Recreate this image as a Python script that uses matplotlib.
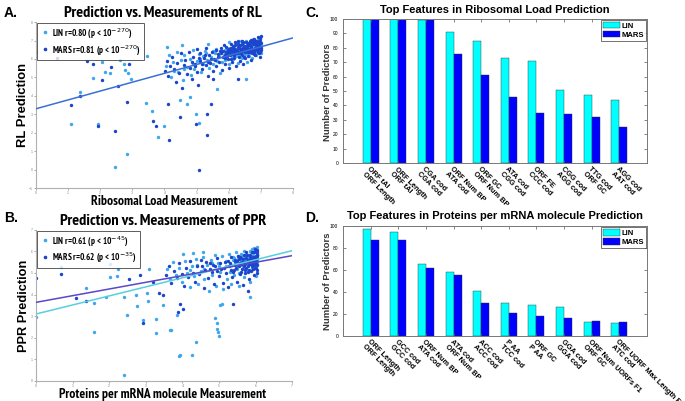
import numpy as np
import matplotlib.pyplot as plt
from matplotlib.lines import Line2D

narrow = ['PT Sans Narrow', 'Liberation Sans Narrow', 'Arial Narrow', 'Archivo Narrow',
          'Roboto Condensed', 'Liberation Sans', 'DejaVu Sans']
wide = ['Liberation Sans', 'Arimo', 'DejaVu Sans']
plt.rcParams['font.family'] = wide

# --- panel A : ribosomal load (measurement, prediction) ---
rl_lin_x = [0.0, 2.06, 2.16, 2.3, 2.63, 2.73, 2.76, 2.87, 2.97, 3.16, 1.37, 1.08, 1.92, 2.82, 2.46, 3.44, 3.62,
            3.8, 4.0, 4.49, 4.69, 4.8, 4.98, 5.08, 5.63, 4.07, 3.45, 4.54, 5.37, 6.54, 1.76,
            4.05, 4.15, 4.2, 4.28, 4.38, 4.42, 4.5, 4.58, 4.62, 4.7, 4.78, 4.82, 4.88, 4.92, 5.02, 5.08, 5.15,
            5.2, 5.25, 5.32, 5.38, 5.45, 5.52, 5.58, 5.65, 5.72, 5.78, 5.88, 5.95, 6.02, 6.06, 6.12, 6.16, 6.24,
            6.28, 6.34, 6.4, 6.46, 6.52, 6.56, 6.6, 6.64, 6.7, 6.74, 6.78, 6.84, 6.86, 6.9, 6.94, 6.98, 7.0,
            7.0, 6.96,
            5.84, 5.9, 5.98, 6.01, 6.09, 6.11, 6.19, 6.23, 6.31, 6.37, 6.39, 6.44, 6.49, 6.54, 6.58, 6.62, 6.66,
            6.72, 6.76, 6.82, 6.88, 6.92, 6.97, 6.99, 6.85, 6.68, 6.48, 6.3, 6.1, 5.9, 5.7, 5.5, 5.3, 5.1, 4.9,
            4.6, 4.3,
            6.03, 6.13, 6.22, 6.27, 6.36, 6.42, 6.5, 6.57, 6.63, 6.71, 6.75, 6.8, 6.87, 6.91, 6.95, 6.99, 6.9,
            6.7, 6.5, 6.2, 5.8, 5.6, 5.4, 5.2]
rl_lin_y = [6.35, 5.83, 5.29, 5.23, 5.96, 5.74, 5.42, 5.23, 4.93, 6.56, 4.22, 2.5, 2.45, 0.85, 0.16, 3.6, 3.2,
            1.79, 2.39, 3.75, 3.57, 3.93, 3.03, 2.52, 4.38, 6.65, 6.14, 6.74, 6.83, 4.93, 4.98,
            5.6, 6.2, 5.0, 5.85, 6.4, 5.3, 5.95, 4.85, 6.2, 5.55, 6.0, 5.15, 6.5, 5.45, 5.9, 6.25, 5.3,
            5.7, 6.45, 5.95, 5.5, 6.1, 5.75, 6.3, 5.9, 5.25, 6.45, 5.95, 6.6, 5.75, 6.4, 6.0, 6.7, 6.15,
            5.8, 6.45, 6.05, 6.85, 6.25, 5.85, 6.7, 6.3, 6.9, 6.05, 6.6, 6.35, 7.0, 6.75, 6.5, 7.1, 6.7,
            6.3, 6.9,
            6.2, 6.5, 6.3, 6.9, 6.15, 6.55, 6.35, 6.8, 6.2, 6.65, 6.95, 6.4, 6.6, 6.95, 6.5, 6.15, 6.85,
            6.5, 7.1, 6.85, 6.55, 7.05, 6.85, 7.2, 6.2, 6.45, 6.15, 6.9, 6.55, 6.25, 6.15, 6.45, 6.3, 6.0, 5.75,
            5.45, 5.35,
            6.6, 6.35, 6.5, 6.25, 6.6, 6.75, 6.45, 6.3, 6.55, 6.7, 6.4, 6.75, 6.3, 6.6, 7.0, 6.55, 6.9,
            6.5, 6.7, 6.45, 5.85, 6.55, 5.9, 6.15]
rl_mars_x = [0.66, 1.6, 1.76, 2.06, 2.35, 2.56, 1.37, 1.08, 1.92, 2.82, 2.46, 3.65, 3.75, 4.14, 4.11, 4.49,
             4.98, 5.32, 5.32, 5.08, 5.44, 6.3, 2.9,
             4.02, 4.08, 4.12, 4.18, 4.25, 4.3, 4.35, 4.4, 4.45, 4.5, 4.55, 4.6, 4.65, 4.7, 4.75, 4.8, 4.85,
             4.9, 4.95, 5.0, 5.0, 5.05, 5.1, 5.12, 5.18, 5.22, 5.28, 5.3, 5.35, 5.4, 5.42, 5.48, 5.5, 5.5,
             5.55, 5.6, 5.62, 5.68, 5.7, 5.75, 5.78, 5.82, 5.85, 5.9, 5.92, 5.98, 6.0, 6.0,
             6.05, 6.08, 6.1, 6.15, 6.18, 6.2, 6.22, 6.25, 6.3, 6.32, 6.35, 6.38, 6.4, 6.42, 6.45, 6.48, 6.5, 6.5,
             6.55, 6.58, 6.6, 6.62, 6.65, 6.68, 6.7, 6.72, 6.75, 6.78, 6.8, 6.82, 6.85, 6.88, 6.9, 6.92, 6.95,
             6.97, 7.0, 7.0, 7.0, 6.98,
             5.82, 5.87, 5.93, 5.96, 6.03, 6.07, 6.13, 6.17, 6.21, 6.27, 6.29, 6.33, 6.37, 6.41, 6.44, 6.47,
             6.53, 6.57, 6.59, 6.63, 6.67, 6.69, 6.73, 6.77, 6.79, 6.83, 6.87, 6.89, 6.93, 6.96, 6.99, 6.91,
             6.81, 6.71, 6.61, 6.51, 6.43, 6.36, 6.26, 6.14, 6.04, 5.94, 5.76, 5.66, 5.56, 5.46, 5.36, 5.26,
             5.16, 5.06, 4.96, 4.86,
             6.02, 6.06, 6.11, 6.16, 6.19, 6.24, 6.28, 6.34, 6.39, 6.43, 6.46, 6.52, 6.56, 6.61, 6.64, 6.69,
             6.74, 6.76, 6.81, 6.84, 6.89, 6.94, 6.97, 7.0, 6.95, 6.87, 6.78, 6.66, 6.54, 6.45, 6.33, 6.21,
             6.12, 5.97, 5.88, 5.72]
rl_mars_y = [6.05, 5.87, 5.74, 4.84, 5.56, 4.51, 4.0, 3.48, 2.35, 3.66, 2.07, 2.66, 2.39, 1.58, 3.57, 2.84,
             2.45, 3.03, 1.85, -0.02, 3.57, 4.93, 5.75,
             5.35, 5.9, 5.1, 5.6, 6.1, 5.45, 4.75, 5.8, 5.25, 6.3, 4.4, 5.65, 5.95, 5.2, 6.4, 5.5, 4.9,
             6.1, 5.75, 5.3, 6.55, 4.6, 5.9, 6.3, 5.45, 6.05, 5.65, 6.6, 5.1, 6.2, 5.8, 6.4, 5.35, 4.9,
             6.0, 6.5, 5.6, 6.25, 5.85, 6.6, 5.4, 6.1, 6.75, 5.7, 6.35, 6.0, 5.5, 6.55,
             6.2, 6.8, 5.85, 6.45, 6.05, 6.9, 5.6, 6.3, 6.65, 6.1, 5.9, 6.5, 6.95, 6.2, 5.7, 6.7, 6.35, 6.05,
             6.55, 6.85, 6.15, 6.4, 7.0, 6.6, 5.95, 6.3, 6.8, 6.5, 7.1, 6.2, 6.65, 6.9, 6.4, 7.2, 6.7,
             6.1, 6.85, 6.5, 7.25, 6.95,
             6.45, 6.2, 6.65, 6.3, 6.5, 6.0, 6.6, 6.25, 6.75, 6.45, 6.95, 6.6, 6.3, 6.8, 6.45, 6.1,
             6.9, 6.6, 6.35, 6.85, 6.45, 7.05, 6.55, 6.95, 6.25, 7.0, 6.5, 6.75, 6.95, 6.55, 7.15, 6.6,
             6.8, 6.65, 6.75, 6.55, 6.55, 6.75, 6.5, 6.25, 6.4, 6.15, 6.3, 6.1, 5.95, 6.0, 5.85, 6.2,
             5.75, 6.05, 5.6, 5.85,
             6.35, 6.6, 6.45, 6.2, 6.55, 6.4, 6.8, 6.3, 6.55, 6.45, 6.9, 6.5, 6.7, 6.55, 6.75, 6.35,
             6.9, 6.45, 6.6, 6.95, 6.55, 6.85, 6.4, 6.6, 6.3, 6.85, 6.4, 6.75, 6.45, 6.6, 6.4, 6.5,
             6.7, 6.5, 6.05, 6.45]
rl_fit = (3.3, 0.48)  # intercept, slope (both models nearly identical)

# --- panel B : proteins per mRNA ---
ppr_lin_x = [0.0, 0.67, 1.37, 1.59, 1.59, 2.02, 2.02, 1.91, 2.2, 2.25, 2.4, 2.48, 2.39, 2.73, 2.75, 2.93,
             3.02, 3.07, 3.1, 3.28, 3.46, 3.66, 3.93, 3.84, 4.37, 4.27, 3.92, 3.68, 4.89, 4.94, 4.98, 4.95,
             5.0, 5.07, 5.04, 5.85, 3.28, 4.57, 4.02, 4.3,
             3.58, 3.66, 3.74, 3.82, 3.92, 4.0, 4.08, 4.12, 4.2, 4.25, 4.32, 4.38, 4.42, 4.5, 4.55, 4.6, 4.68,
             4.72, 4.78, 4.82, 4.88, 4.92, 4.98, 5.02, 5.08, 5.12, 5.18, 5.22, 5.26, 5.3, 5.34, 5.38, 5.42,
             5.46, 5.5, 5.54, 5.58, 5.64, 5.68, 5.74, 5.78, 5.84, 5.86, 5.9, 5.94, 5.96, 6.0, 6.02, 6.04,
             6.05, 6.01,
             5.33, 5.39, 5.45, 5.51, 5.55, 5.59, 5.63, 5.67, 5.71, 5.75, 5.79, 5.83, 5.87, 5.89, 5.93, 5.97,
             5.99, 6.02, 6.04, 6.05, 5.95, 5.8, 5.6, 5.4, 5.2, 5.0, 4.8, 4.6, 4.4, 4.2,
             5.52, 5.6, 5.68, 5.76, 5.82, 5.88, 5.91, 5.96, 6.0, 6.03, 6.05, 5.85, 5.65, 5.45]
ppr_lin_y = [2.98, 5.26, 4.32, 2.25, 3.6, 5.4, 4.83, 3.9, 4.87, 5.18, 3.9, 3.05, 0.28, 3.98, 3.49, 2.8,
             4.06, 3.7, 5.2, 2.2, 3.52, 2.36, 1.2, 3.05, 1.82, 1.2, 1.17, 2.36, 2.9, 2.7, 2.25, 2.4,
             2.08, 3.55, 3.5, 3.9, 2.87, 5.96, 5.87, 5.92,
             5.2, 4.7, 5.5, 4.9, 5.25, 4.6, 5.55, 5.0, 4.35, 5.3, 4.85, 5.65, 4.5, 5.1, 5.75, 4.7, 5.35,
             4.15, 5.6, 4.9, 5.85, 4.4, 5.45, 5.05, 5.8, 4.25, 5.3, 4.7, 5.9, 5.05, 4.5, 5.6, 4.9,
             5.95, 5.2, 4.4, 5.45, 5.85, 4.8, 5.6, 5.15, 6.0, 4.6, 5.5, 5.2, 6.15, 5.7, 4.85, 5.4,
             6.2, 5.95,
             5.35, 5.75, 5.5, 5.8, 5.0, 5.65, 5.35, 6.0, 5.5, 5.85, 5.4, 5.7, 5.95, 5.25, 5.85, 5.45,
             5.65, 6.05, 5.8, 5.55, 5.35, 5.85, 5.55, 5.7, 5.55, 5.3, 5.45, 5.2, 5.35, 5.15,
             5.65, 5.9, 5.7, 5.6, 5.85, 5.65, 6.1, 5.95, 5.35, 5.6, 5.9, 5.5, 5.25, 5.45]
ppr_mars_x = [0.0, 0.67, 1.08, 1.37, 2.55, 2.93, 2.84, 3.2, 3.37, 3.93, 5.39, 5.78, 4.02, 3.89, 3.48,
              3.55, 3.62, 3.7, 3.78, 3.85, 3.9, 3.98, 4.05, 4.1, 4.15, 4.22, 4.28, 4.35, 4.4, 4.45, 4.52,
              4.58, 4.62, 4.7, 4.75, 4.8, 4.85, 4.9, 4.95, 5.0, 5.05, 5.1, 5.15, 5.2, 5.25, 5.28, 5.32, 5.36,
              5.4, 5.44, 5.48, 5.52, 5.56, 5.6, 5.62, 5.66, 5.7, 5.72, 5.76, 5.8, 5.82, 5.85, 5.88, 5.9,
              5.92, 5.95, 5.97, 6.0, 6.02, 6.04, 6.05, 6.03, 5.99,
              5.31, 5.37, 5.43, 5.47, 5.53, 5.57, 5.61, 5.65, 5.69, 5.73, 5.77, 5.81, 5.84, 5.87, 5.91, 5.93,
              5.96, 5.98, 6.01, 6.03, 6.05, 6.04, 6.0, 5.94, 5.86, 5.74, 5.64, 5.54, 5.44, 5.34, 5.24, 5.14,
              5.04, 4.94, 4.84, 4.74, 4.64, 4.54,
              5.5, 5.55, 5.58, 5.63, 5.67, 5.71, 5.74, 5.78, 5.83, 5.86, 5.89, 5.92, 5.95, 5.98, 6.0, 6.03,
              6.05, 5.97, 5.9, 5.8, 5.7, 5.6]
ppr_mars_y = [4.75, 4.94, 3.83, 3.7, 4.7, 2.67, 4.9, 4.6, 4.06, 3.55, 3.55, 4.17, 3.33, 3.2, 3.98,
              4.9, 5.3, 4.55, 5.1, 4.75, 5.45, 4.95, 4.4, 5.25, 4.8, 5.55, 5.0, 4.6, 5.3, 4.95, 5.6,
              4.3, 5.15, 4.75, 5.45, 5.05, 4.5, 5.3, 5.7, 4.85, 5.2, 4.55, 5.5, 5.0, 4.35, 5.3, 5.75, 4.8,
              5.15, 5.55, 4.6, 5.35, 4.95, 5.7, 5.2, 4.45, 5.5, 5.0, 5.85, 5.3, 4.7, 5.6, 5.1, 5.95,
              5.4, 4.9, 5.75, 5.25, 5.55, 6.05, 5.0, 5.85, 6.1,
              5.45, 5.05, 5.6, 5.25, 5.8, 5.45, 5.05, 5.65, 5.3, 5.95, 5.5, 5.15, 5.75, 5.45, 5.65, 5.2,
              5.95, 5.5, 5.8, 5.35, 5.7, 5.15, 6.0, 5.6, 5.4, 5.25, 5.45, 5.65, 5.35, 5.15, 5.55, 5.25,
              5.45, 5.1, 5.35, 5.2, 5.5, 5.3,
              5.55, 5.3, 5.75, 5.5, 5.85, 5.4, 5.7, 5.6, 5.45, 5.85, 5.55, 5.75, 5.35, 5.6, 5.45, 5.95,
              5.85, 5.25, 5.3, 5.05, 5.15, 5.4]
ppr_lin_fit = (3.1, 0.419)
ppr_mars_fit = (3.64, 0.309)

# --- panels C and D : feature counts ---
rl_feat_lin = ['ORF tAI', 'ORF Length', 'CGA cod', 'ORF Num BP', 'ORF GC', 'ATA cod', 'ORF FE',
               'CGG cod', 'TTG cod', 'AGG cod']
rl_feat_mars = ['ORF Length', 'ORF tAI', 'CGA cod', 'ATA cod', 'ORF Num BP', 'CGG cod', 'CCC cod',
                'AGG cod', 'ORF GC', 'AAT cod']
rl_cnt_lin = [100, 100, 99, 91, 85, 73, 71, 51, 47, 44]
rl_cnt_mars = [100, 99, 99, 76, 61, 46, 35, 34, 32, 25]

ppr_feat_lin = ['ORF Length', 'GCC cod', 'ORF Num BP', 'ATA cod', 'ACC cod', 'P AA', 'ORF GC',
                'GGA cod', 'ORF Num UORFs F1', 'ORF UORF Max Length F0']
ppr_feat_mars = ['ORF Length', 'GCC cod', 'ATA cod', 'ORF Num BP', 'ACC cod', 'TCC cod', 'P AA',
                 'GGA cod', 'ORF GC', 'ATC cod']
ppr_cnt_lin = [97, 95, 66, 58, 41, 30, 28, 26, 13, 12]
ppr_cnt_mars = [87, 87, 62, 56, 30, 21, 18, 16, 14, 13]

c_lin_pt = '#3ea6ee'
c_mars_pt = '#1c44cc'
c_bar_lin = '#00ffff'
c_bar_mars = '#0000ff'

fig = plt.figure(figsize=(6.85, 4.01), dpi=100)
renderer = fig.canvas.get_renderer()


def fit_text(t, target_px):
    # shrink/grow a text so its long side covers target_px pixels
    bb = t.get_window_extent(renderer=renderer)
    size = max(bb.width, bb.height)
    t.set_fontsize(t.get_fontsize() * target_px / size)
    return t


def scatter_panel(rect, lx, ly, mx, my, fits, xmax, ymin, ymax, labels):
    ax = fig.add_axes(rect)
    ax.scatter(lx, ly, s=6, color=c_lin_pt, linewidths=0, zorder=2)
    ax.scatter(mx, my, s=6, color=c_mars_pt, linewidths=0, zorder=2)
    xx = np.array([0, xmax])
    for (a, b), col in fits:
        ax.plot(xx, a + b * xx, color=col, lw=1.1, zorder=3)
    ax.set_xlim(0, xmax)
    ax.set_ylim(ymin, ymax)
    ax.set_xticks(range(0, xmax + 1))
    ax.set_yticks(range(ymin, ymax + 1))
    ax.tick_params(labelsize=2.5, colors='#888888', length=1.5, width=0.5, pad=0.6)
    for s in ['top', 'right']:
        ax.spines[s].set_visible(False)
    for s in ['left', 'bottom']:
        ax.spines[s].set_color('#b0b0b0')
    h = [Line2D([], [], ls='', marker='o', ms=1.6, color=c_lin_pt),
         Line2D([], [], ls='', marker='o', ms=1.6, color=c_mars_pt)]
    leg = ax.legend(h, labels, loc='upper left', bbox_to_anchor=(0.0, 1.0),
                    prop={'family': narrow, 'size': 6.5, 'weight': 'bold'}, frameon=True, fancybox=False,
                    handletextpad=0.3, borderpad=0.35, labelspacing=0.35, handlelength=1.0,
                    borderaxespad=0.1)
    leg.get_frame().set_edgecolor('#333333')
    leg.get_frame().set_linewidth(0.7)
    return ax


scatter_panel([0.0526, 0.531, 0.375, 0.414], rl_lin_x, rl_lin_y, rl_mars_x, rl_mars_y,
              [(rl_fit, '#3a70d4')], 8, -1, 8,
              ['LIN r=0.80 (p < 10$^{-270}$)', 'MARS r=0.81 (p < 10$^{-270}$)'])
scatter_panel([0.0526, 0.05, 0.374, 0.377], ppr_lin_x, ppr_lin_y, ppr_mars_x, ppr_mars_y,
              [(ppr_lin_fit, '#55d0df'), (ppr_mars_fit, '#5a48c8')], 7, 0, 7,
              ['LIN r=0.61 (p < 10$^{-45}$)', 'MARS r=0.62 (p < 10$^{-35}$)'])


def bar_panel(rect, lin, mars, flin, fmars, ystep):
    ax = fig.add_axes(rect)
    pos = np.arange(1, len(lin) + 1)
    w = 0.29
    ax.bar(pos - w / 2, lin, w, color=c_bar_lin, edgecolor='#333333', linewidth=0.3, label='LIN')
    ax.bar(pos + w / 2, mars, w, color=c_bar_mars, edgecolor='#333333', linewidth=0.3, label='MARS')
    ax.set_xlim(0, 11)
    ax.set_ylim(0, 100)
    ax.set_yticks(range(0, 101, ystep))
    ax.set_xticks(pos)
    ax.set_xticklabels([])
    ax.tick_params(labelsize=3.5, direction='in', top=True, right=True, length=2, width=0.5,
                   colors='#555555', labelcolor='black')
    for s in ax.spines.values():
        s.set_color('#777777')
        s.set_linewidth(0.7)
    for p, a, b in zip(pos, flin, fmars):
        ax.text(p, -2, a + '\n' + b, rotation=-45, rotation_mode='anchor', ha='left', va='top',
                fontsize=5.3, fontweight='bold', linespacing=1.0)
    leg = ax.legend(loc='upper right', prop={'weight': 'bold', 'size': 5.5},
                    fancybox=False, borderpad=0.25, labelspacing=0.15, handlelength=2.2,
                    handleheight=0.9, handletextpad=0.2, borderaxespad=0.15)
    leg.get_frame().set_edgecolor('#333333')
    leg.get_frame().set_linewidth(0.6)
    return ax


bar_panel([0.5007, 0.5935, 0.4438, 0.359], rl_cnt_lin, rl_cnt_mars, rl_feat_lin, rl_feat_mars, 10)
bar_panel([0.5007, 0.162, 0.4438, 0.274], ppr_cnt_lin, ppr_cnt_mars, ppr_feat_lin, ppr_feat_mars, 20)

# titles and labels, sized to the widths seen in the reference
bold_n = dict(family=narrow, fontweight='bold', ha='center', va='center')
bold_w = dict(fontweight='bold', ha='center', va='center')
fit_text(fig.text(0.238, 0.968, 'Prediction vs. Measurements of RL', fontsize=11, **bold_n), 197)
fit_text(fig.text(0.238, 0.449, 'Prediction vs. Measurements of PPR', fontsize=11, **bold_n), 205)
fit_text(fig.text(0.722, 0.976, 'Top Features in Ribosomal Load Prediction', fontsize=9, **bold_w), 229)
fit_text(fig.text(0.723, 0.461, 'Top Features in Proteins per mRNA molecule Prediction', fontsize=9,
                  **bold_w), 295)
fit_text(fig.text(0.240, 0.497, 'Ribosomal Load Measurement', fontsize=9, **bold_n), 145)
fit_text(fig.text(0.237, 0.015, 'Proteins per mRNA molecule Measurement', fontsize=9, **bold_n), 205)
fit_text(fig.text(0.034, 0.738, 'RL Prediction', rotation=90, fontsize=9, **bold_w), 84)
fit_text(fig.text(0.035, 0.237, 'PPR Prediction', rotation=90, fontsize=9, **bold_w), 92)
fit_text(fig.text(0.478, 0.77, 'Number of Predictors', rotation=90, fontsize=6.5, color='#333333',
                  **bold_w), 97)
fit_text(fig.text(0.478, 0.299, 'Number of Predictors', rotation=90, fontsize=6.5, color='#333333',
                  **bold_w), 97)
for x, y, t in [(0.006, 0.968, 'A.'), (0.006, 0.456, 'B.'), (0.446, 0.968, 'C.'), (0.446, 0.456, 'D.')]:
    fig.text(x, y, t, ha='left', va='center', fontsize=10, fontweight='bold')

fig.savefig('out.png', dpi=100)
